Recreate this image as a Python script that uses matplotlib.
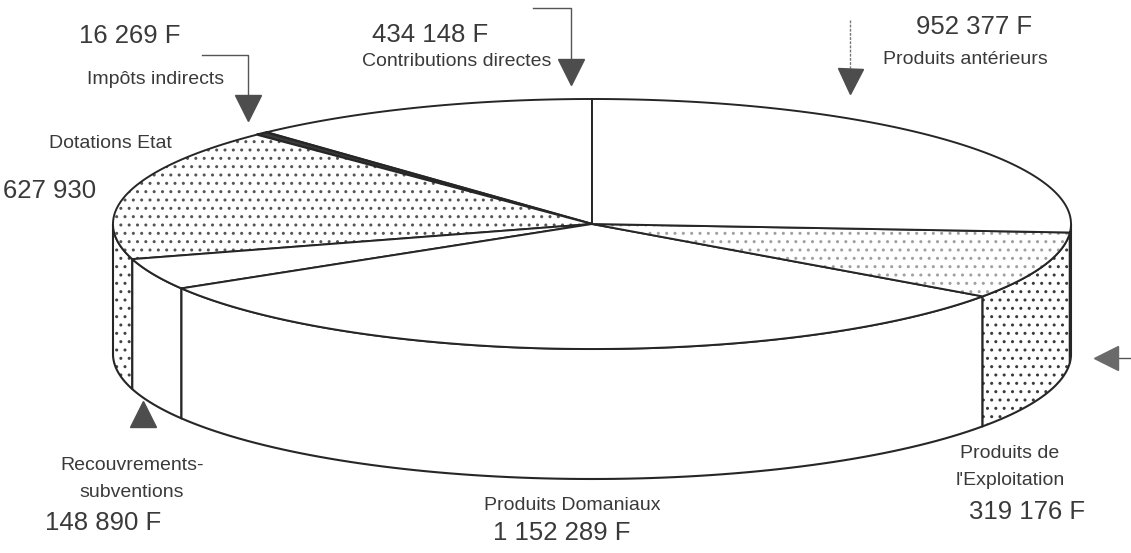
import matplotlib
matplotlib.use("Agg")
import matplotlib.pyplot as plt
import numpy as np
from matplotlib.patches import Polygon

plt.rcParams['font.family'] = ['Liberation Sans', 'DejaVu Sans']
plt.rcParams['hatch.linewidth'] = 1.0

# slices, counter-clockwise starting at the top of the pie
categories = ["Contributions directes", "Impôts indirects", "Dotations Etat",
              "Recouvrements-\nsubventions", "Produits Domaniaux",
              "Produits de\nl'Exploitation", "Produits antérieurs"]
values = [434148, 16269, 627930, 148890, 1152289, 319176, 952377]
value_texts = ["434 148 F", "16 269 F", "627 930", "148 890 F",
               "1 152 289 F", "319 176 F", "952 377 F"]

# pie geometry in pixels
CX, CY = 592, 224
A, B = 479, 125
DEPTH = 130
INK = '#262626'
TXT = '#3a3a3a'

# (fill, hatch, hatch colour) for top face and side wall
top_style = [('white', None, None), ('#3a3a3a', None, None), ('white', '..', '#555555'),
             ('white', None, None), ('white', None, None), ('white', '..', '#a0a0a0'),
             ('white', None, None)]
side_style = [('white', None, None), ('#3a3a3a', None, None), ('white', '..', '#444444'),
              ('white', None, None), ('white', None, None), ('white', '..', '#3a3a3a'),
              ('white', None, None)]


def ell(theta, dy=0):
    t = np.radians(theta)
    return np.column_stack([CX + A * np.cos(t), CY - B * np.sin(t) + dy])


def add_poly(ax, pts, style, lw=1.5):
    fill, hatch, hcol = style
    ax.add_patch(Polygon(pts, closed=True, facecolor=fill, edgecolor='none', lw=0))
    if hatch:
        ax.add_patch(Polygon(pts, closed=True, facecolor='none', edgecolor=hcol,
                             hatch=hatch, lw=0))
    ax.add_patch(Polygon(pts, closed=True, facecolor='none', edgecolor=INK,
                         lw=lw, joinstyle='round'))


def draw_pie(ax):
    total = float(sum(values))
    bounds = 90 + 360 * np.concatenate([[0], np.cumsum(values)]) / total
    # side walls (front half only)
    for i in range(len(values)):
        lo, hi = max(bounds[i], 180), min(bounds[i + 1], 360)
        if hi <= lo:
            continue
        th = np.linspace(lo, hi, 80)
        pts = np.vstack([ell(th), ell(th[::-1], DEPTH)])
        add_poly(ax, pts, side_style[i])
    # top faces
    for i in range(len(values)):
        th = np.linspace(bounds[i], bounds[i + 1], 200)
        pts = np.vstack([[CX, CY], ell(th)])
        add_poly(ax, pts, top_style[i], lw=1.7 if i == 1 else 1.4)


def annotate(ax):
    grey = '#4d4d4d'
    # leader lines
    ax.plot([202, 248, 248], [55, 55, 96], color='#555555', lw=1.0)
    ax.plot([533, 571, 571], [8, 8, 60], color='#555555', lw=1.0)
    ax.plot([850, 850], [20, 68], color='#777777', lw=1.0, ls=(0, (2, 1)))
    ax.plot([1118, 1131], [358, 358], color='#555555', lw=1.0)
    # pointer triangles
    ax.plot(248, 108, marker='v', ms=19, color=grey, mec=grey)
    ax.plot(571, 72, marker='v', ms=19, color=grey, mec=grey)
    ax.plot(850, 81, marker='v', ms=18, color=grey, mec=grey)
    ax.plot(1106, 358, marker='<', ms=17, color='#6a6a6a', mec='#6a6a6a')
    ax.plot(143, 414, marker='^', ms=19, color=grey, mec=grey)

    name_pos = [(457, 62), (156, 79), (110, 143), (132, 479), (572, 506), (1010, 467), (965, 59)]
    value_pos = [(430, 35), (130, 36), (50, 191), (103, 523), (562, 533), (1027, 512), (974, 27)]
    for name, (x, y) in zip(categories, name_pos):
        ax.text(x, y, name, ha='center', va='center', fontsize=14, color=TXT,
                linespacing=1.75)
    for val, (x, y) in zip(value_texts, value_pos):
        ax.text(x, y, val, ha='center', va='center', fontsize=18.5, color=TXT)


if __name__ == '__main__':
    fig = plt.figure(figsize=(11.31, 5.53), dpi=100)
    ax = fig.add_axes([0, 0, 1, 1])
    ax.set_xlim(0, 1131)
    ax.set_ylim(553, 0)
    ax.axis('off')
    draw_pie(ax)
    annotate(ax)
    fig.savefig('out.png', dpi=100, facecolor='white')
